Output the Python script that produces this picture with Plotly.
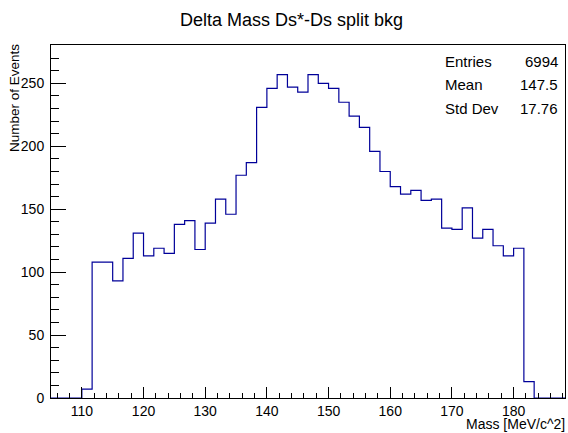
import plotly.graph_objects as go

# Histogram definition (ROOT-style TH1)
x_low = 105.0
bin_width = 5.0 / 3.0
n_bins = 50
counts = [0, 0, 0,
          7, 108, 108, 93, 111, 131, 113, 119, 115, 138, 141, 118, 139, 158, 146,
          177, 187, 231, 246, 257, 247, 243, 257, 250, 246, 235, 224, 215, 196, 180, 168,
          162, 165, 157, 158, 135, 134, 151, 127, 134, 121, 113, 119, 13,
          0, 0, 0]
x_tick_vals = [110, 120, 130, 140, 150, 160, 170, 180]
y_tick_vals = [0, 50, 100, 150, 200, 250]
stats_labels = ["Entries", "Mean", "Std Dev"]
stats_values = ["6994", "147.5", "17.76"]
title_text = "Delta Mass Ds*-Ds split bkg"
x_title = "Mass [MeV/c^2]"
y_title = "Number of Events"

edges = [x_low + i * bin_width for i in range(n_bins + 1)]
x_hi = edges[-1]
step_y = counts + [counts[-1]]

FONT = "Liberation Sans, Arial, Helvetica, sans-serif"

fig = go.Figure()
fig.add_trace(go.Scatter(
    x=edges, y=step_y, mode="lines", line_shape="hv",
    line=dict(color="#000099", width=1.2), hoverinfo="skip", showlegend=False,
))

W, H = 568, 433
ml, mr, mt, mb = 51, 3, 45, 35
pw, ph = W - ml - mr, H - mt - mb

def px(xp):
    return (xp - ml) / pw

def py(yp):
    return 1 - (yp - mt) / ph

fig.update_layout(
    width=W, height=H,
    margin=dict(l=ml, r=mr, t=mt, b=mb, pad=0),
    paper_bgcolor="white", plot_bgcolor="white",
    font=dict(family=FONT, color="black", size=14),
    title=dict(text=title_text, x=291.5 / W, xanchor="center",
               y=1 - 20 / H, yanchor="middle", font=dict(size=18, family=FONT)),
    showlegend=False,
)

fig.update_xaxes(
    range=[x_low, x_hi], tickmode="array", tickvals=x_tick_vals,
    ticks="inside", ticklen=11, tickwidth=1, tickcolor="black",
    minor=dict(dtick=2, tick0=0, ticks="inside", ticklen=5.5, tickwidth=1, tickcolor="black"),
    showline=True, linecolor="black", linewidth=1, mirror=True,
    showgrid=False, zeroline=False, tickfont=dict(size=14, family=FONT),
    ticklabelstandoff=0,
)
fig.update_yaxes(
    range=[0, 280.5], tickmode="array", tickvals=y_tick_vals,
    ticks="inside", ticklen=15, tickwidth=1, tickcolor="black",
    minor=dict(dtick=10, tick0=0, ticks="inside", ticklen=7.5, tickwidth=1, tickcolor="black"),
    showline=True, linecolor="black", linewidth=1, mirror=True,
    showgrid=False, zeroline=False, tickfont=dict(size=14, family=FONT),
    ticklabelstandoff=3,
)

annotations = []
stat_y = [61.0, 84.3, 108.3]
for lab, val, yy in zip(stats_labels, stats_values, stat_y):
    annotations.append(dict(text=lab, xref="paper", yref="paper", x=px(443), y=py(yy),
                            xanchor="left", yanchor="middle", showarrow=False,
                            font=dict(size=15, family=FONT)))
    annotations.append(dict(text=val, xref="paper", yref="paper", x=px(559.5), y=py(yy),
                            xanchor="right", yanchor="middle", showarrow=False,
                            font=dict(size=15, family=FONT)))
annotations.append(dict(text=x_title, xref="paper", yref="paper", x=px(566.5), y=py(424),
                        xanchor="right", yanchor="middle", showarrow=False,
                        font=dict(size=14, family=FONT)))
annotations.append(dict(text=y_title, xref="paper", yref="paper", x=px(15), y=py(42),
                        xanchor="center", yanchor="top", textangle=-90, showarrow=False,
                        font=dict(size=13.5, family=FONT)))
fig.update_layout(annotations=annotations)

fig.write_html("out.html")
